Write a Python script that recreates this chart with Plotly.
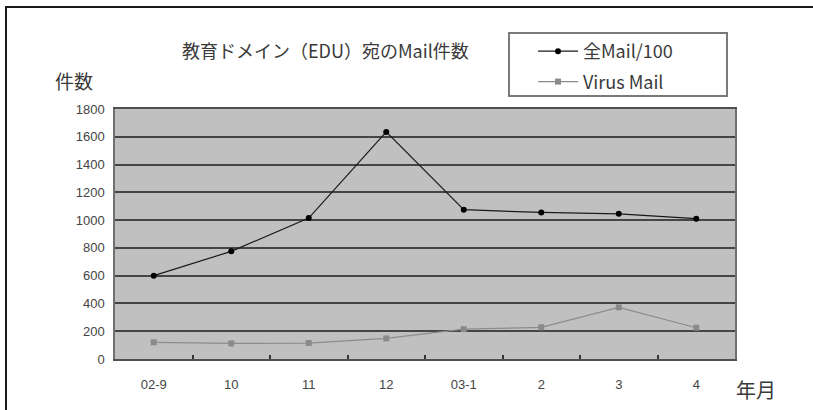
import plotly.graph_objects as go

# Monthly mail counts to the EDU domain
months = ["02-9", "10", "11", "12", "03-1", "2", "3", "4"]
all_mail_div100 = [600, 775, 1015, 1635, 1075, 1055, 1045, 1010]
virus_mail = [120, 112, 115, 148, 215, 228, 372, 225]
y_ticks = [0, 200, 400, 600, 800, 1000, 1200, 1400, 1600, 1800]

W, H = 813, 410
L, R, T, B = 115, 78, 109, 51
PW, PH = W - L - R, H - T - B


def px(x):
    return (x - L) / PW


def py(y):
    return (H - B - y) / PH


jp_font = "Noto Sans CJK JP"

fig = go.Figure()
fig.add_trace(go.Scatter(
    x=months, y=all_mail_div100, name="全Mail/100", mode="lines+markers",
    line=dict(color="#1a1a1a", width=1.2),
    marker=dict(color="#000000", size=6, symbol="circle"),
    legendgroup="a",
))
fig.add_trace(go.Scatter(
    x=months, y=virus_mail, name="Virus Mail", mode="lines+markers",
    line=dict(color="#8c8c8c", width=1.2),
    marker=dict(color="#8a8a8a", size=6, symbol="square"),
    legendgroup="b",
))

fig.update_layout(
    width=W, height=H,
    margin=dict(l=L, r=R, t=T, b=B),
    paper_bgcolor="white",
    plot_bgcolor="#c0c0c0",
    font=dict(family="Liberation Sans, " + jp_font, color="#333333", size=12),
    showlegend=True,
    legend=dict(
        x=px(533), y=py(33), xanchor="left", yanchor="top",
        bgcolor="rgba(0,0,0,0)", borderwidth=0,
        font=dict(family=jp_font + ", Liberation Sans", size=18, color="#3a3a3a"),
        itemwidth=40, tracegroupgap=4,
    ),
    xaxis=dict(
        type="category", range=[-0.5, 7.5],
        showgrid=False, zeroline=False,
        showline=True, linecolor="#505050", linewidth=2, mirror=True,
        ticks="inside", ticklen=4, tickcolor="#333333", tickwidth=1.5,
        tickson="boundaries", ticklabelstandoff=12,
        tickfont=dict(size=13, color="#444444"),
    ),
    yaxis=dict(
        range=[0, 1800], tickvals=y_ticks, ticktext=[str(v) for v in y_ticks],
        showgrid=True, gridcolor="#454545", gridwidth=1.6,
        zeroline=False,
        showline=True, linecolor="#707070", linewidth=1.5, mirror=True,
        ticks="", ticklabelstandoff=6,
        tickfont=dict(size=13, color="#444444"),
    ),
    shapes=[
        # outer chart frame
        dict(type="rect", xref="paper", yref="paper",
             x0=px(6), x1=px(830), y0=py(430), y1=py(7),
             line=dict(color="#1a1a1a", width=2)),
        # legend frame
        dict(type="rect", xref="paper", yref="paper",
             x0=px(509), x1=px(727), y0=py(96), y1=py(33),
             line=dict(color="#7a7a7a", width=2)),
    ],
    annotations=[
        dict(text="教育ドメイン（EDU）宛のMail件数", xref="paper", yref="paper",
             x=px(325), y=py(50), xanchor="center", yanchor="middle",
             showarrow=False, font=dict(family=jp_font, size=18, color="#3a3a3a")),
        dict(text="件数", xref="paper", yref="paper",
             x=px(74), y=py(81), xanchor="center", yanchor="middle",
             showarrow=False, font=dict(family=jp_font, size=19, color="#3a3a3a")),
        dict(text="年月", xref="paper", yref="paper",
             x=px(756), y=py(389), xanchor="center", yanchor="middle",
             showarrow=False, font=dict(family=jp_font, size=20, color="#3a3a3a")),
    ],
)

fig.write_html("out.html")
